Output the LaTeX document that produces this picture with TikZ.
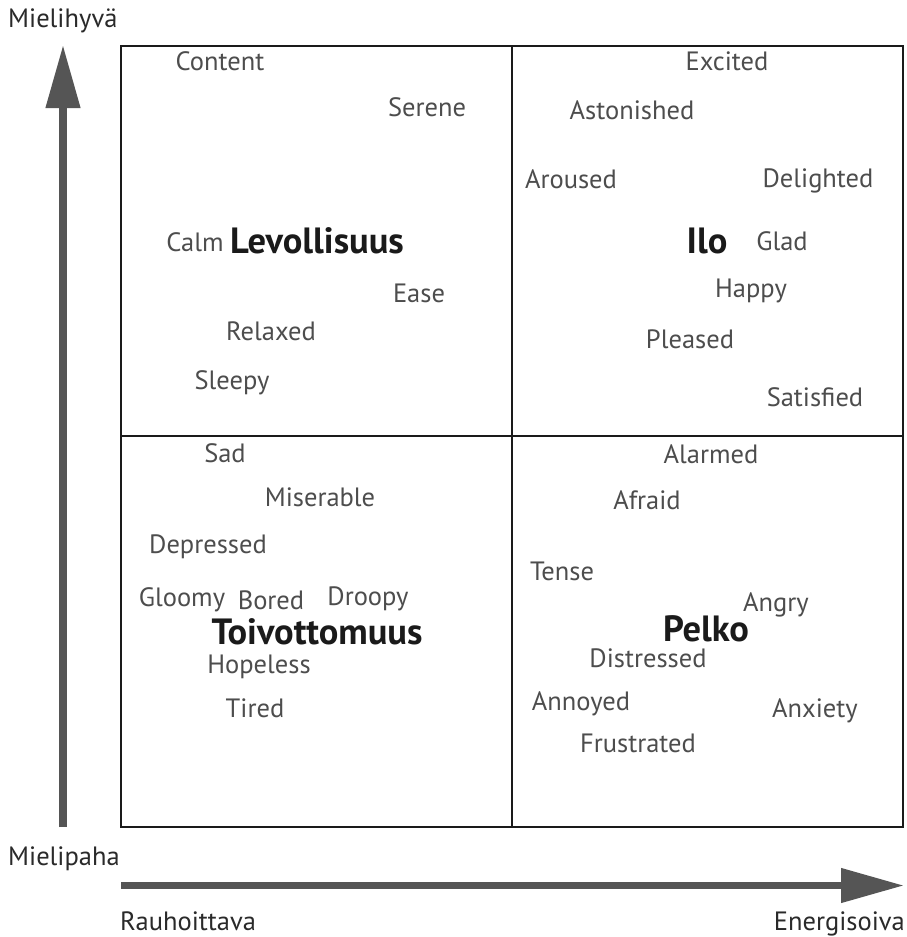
\documentclass[tikz,border=0pt]{standalone}
\usepackage{fontspec}
\setmainfont{PT Sans}
\usetikzlibrary{arrows.meta}
\definecolor{wordgray}{HTML}{4D4D4D}
\definecolor{titleink}{HTML}{1A1A1A}
\definecolor{axisgray}{HTML}{555555}
\definecolor{labelink}{HTML}{2A2A2A}
\tikzset{
  word/.style={text=wordgray, font=\fontsize{26.5}{31}\selectfont, inner sep=0pt,
    text height=18.5pt, text depth=0pt},
  title/.style={text=titleink, font=\fontsize{36.5}{42}\selectfont\bfseries, inner sep=0pt,
    text height=25pt, text depth=0pt},
  axislabel/.style={text=labelink, font=\fontsize{26.5}{31}\selectfont, inner sep=0pt,
    text height=18.5pt, text depth=0pt},
  axisarrow/.style={draw=axisgray, line width=7.5pt,
    -{Triangle[length=63pt,width=33pt,fill=axisgray]}},
  boxline/.style={draw=titleink, line width=2pt}
}
\begin{document}
\begin{tikzpicture}[x=1pt,y=-1pt]
\useasboundingbox[fill=white] (0,0) rectangle (907,937);

% quadrant frame
\coordinate (nw) at (121,46);
\coordinate (se) at (903,827);
\coordinate (midtop) at (512,46);
\coordinate (midbot) at (512,827);
\coordinate (midleft) at (121,436);
\coordinate (midright) at (903,436);
\draw[boxline] (nw) rectangle (se);
\draw[boxline] (midtop) -- (midbot);
\draw[boxline] (midleft) -- (midright);

% axes
\coordinate (vstart) at (63,827);
\coordinate (vend) at (63,45);
\coordinate (hstart) at (121,885.5);
\coordinate (hend) at (904,885.5);
\draw[axisarrow] (vstart) -- (vend);
\draw[axisarrow] (hstart) -- (hend);

\node[axislabel, anchor=west] (pleasure) at (8,18.5) {Mielihyvä};
\node[axislabel, anchor=west] (displeasure) at (8,856) {Mielipaha};
\node[axislabel, anchor=west] (calming) at (120,921) {Rauhoittava};
\node[axislabel, anchor=east] (energizing) at (905,921) {Energisoiva};

% upper left
\node[word] (content) at (220,61) {Content};
\node[word] (serene) at (427,107) {Serene};
\node[word] (calm) at (195,242) {Calm};
\node[title] (levollisuus) at (317,241) {Levollisuus};
\node[word] (ease) at (419,293) {Ease};
\node[word] (relaxed) at (271,331) {Relaxed};
\node[word] (sleepy) at (232,380) {Sleepy};

% upper right
\node[word] (excited) at (727,61) {Excited};
\node[word] (astonished) at (632,110) {Astonished};
\node[word] (aroused) at (571,179) {Aroused};
\node[word] (delighted) at (818,178) {Delighted};
\node[title] (ilo) at (707,241) {Ilo};
\node[word] (glad) at (782,241) {Glad};
\node[word] (happy) at (751,288) {Happy};
\node[word] (pleased) at (690,339) {Pleased};
\node[word] (satisfied) at (815,397) {Satisfied};

% lower left
\node[word] (sad) at (225,453) {Sad};
\node[word] (miserable) at (320,497) {Miserable};
\node[word] (depressed) at (208,544) {Depressed};
\node[word] (gloomy) at (182,597) {Gloomy};
\node[word] (bored) at (271,600) {Bored};
\node[word] (droopy) at (368,596) {Droopy};
\node[title] (toivottomuus) at (317,632) {Toivottomuus};
\node[word] (hopeless) at (259,664) {Hopeless};
\node[word] (tired) at (255,708) {Tired};

% lower right
\node[word] (alarmed) at (711,454) {Alarmed};
\node[word] (afraid) at (647,500) {Afraid};
\node[word] (tense) at (562,571) {Tense};
\node[word] (angry) at (776,602) {Angry};
\node[title] (pelko) at (706,629) {Pelko};
\node[word] (distressed) at (648,658) {Distressed};
\node[word] (annoyed) at (581,701) {Annoyed};
\node[word] (anxiety) at (815,708) {Anxiety};
\node[word] (frustrated) at (638,743) {Frustrated};
\end{tikzpicture}
\end{document}
